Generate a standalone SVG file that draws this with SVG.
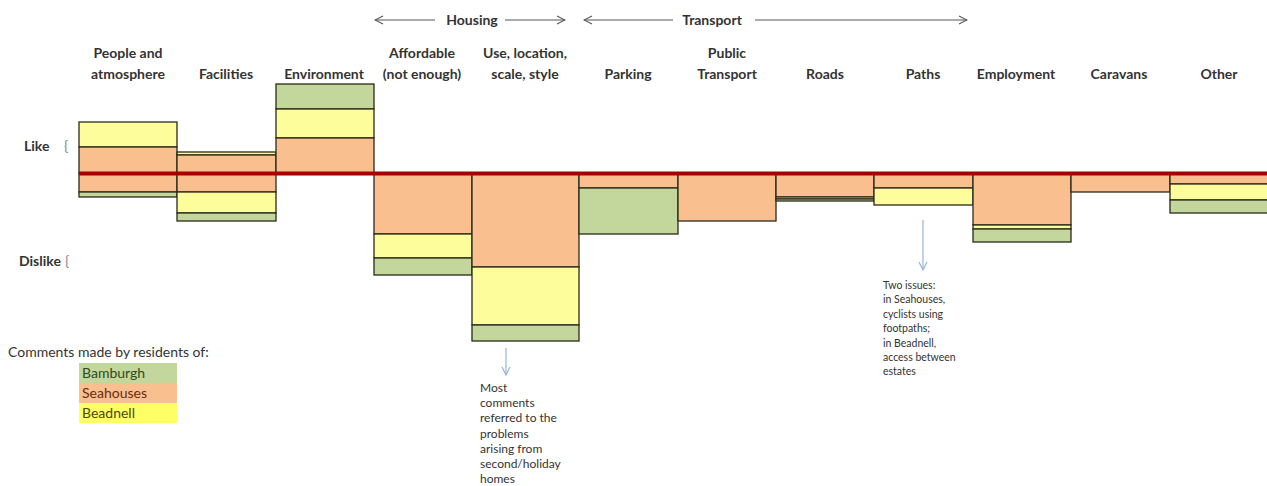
<svg xmlns="http://www.w3.org/2000/svg" width="1267" height="486" viewBox="0 0 1267 486">
<style>
  .hdr{font-family:Lato,"Liberation Sans",sans-serif;font-weight:bold;font-size:14px;fill:#333;text-anchor:middle}
  .lbl{font-family:Lato,"Liberation Sans",sans-serif;font-weight:bold;font-size:14px;fill:#333}
  .leg{font-family:Lato,"Liberation Sans",sans-serif;font-size:14px;fill:#333}
  .note{font-family:Lato,"Liberation Sans",sans-serif;font-size:12px;fill:#333}
  .note2{font-family:Lato,"Liberation Sans",sans-serif;font-size:10.5px;fill:#333}
  .g{fill:#c3d69b;stroke:#2a2a1a;stroke-width:1.3}
  .o{fill:#fabf8f;stroke:#2a2a1a;stroke-width:1.3}
  .y{fill:#fdfd9c;stroke:#2a2a1a;stroke-width:1.3}
  .arr{stroke:#555;stroke-width:1;fill:none}
  .blue{stroke:#9bb3dc;stroke-width:1.2;fill:none}
</style>
<defs>
  <marker id="chev" viewBox="0 0 10 10" refX="9" refY="5" markerWidth="10" markerHeight="10" markerUnits="userSpaceOnUse" orient="auto">
    <path d="M1,1 L9,5 L1,9" fill="none" stroke="#555" stroke-width="1.1"/>
  </marker>
  <marker id="chevb" viewBox="0 0 10 10" refX="9" refY="5" markerWidth="10" markerHeight="10" markerUnits="userSpaceOnUse" orient="auto">
    <path d="M1,1 L9,5 L1,9" fill="none" stroke="#9bb3dc" stroke-width="1.2"/>
  </marker>
</defs>
<rect width="1267" height="486" fill="#fff"/>

<g id="group-labels">
  <text class="hdr" x="472" y="25">Housing</text>
  <text class="hdr" x="712" y="25">Transport</text>
</g>

<g id="col-people">
  <text class="hdr" x="128" y="58">People and</text>
  <text class="hdr" x="128" y="79">atmosphere</text>
  <rect class="y" x="79" y="122" width="98" height="25"/>
  <rect class="o" x="79" y="147" width="98" height="26"/>
  <rect class="o" x="79" y="173" width="98" height="19"/>
  <rect class="g" x="79" y="192" width="98" height="5"/>
</g>
<g id="col-facilities">
  <text class="hdr" x="226" y="79">Facilities</text>
  <rect class="y" x="177" y="152" width="99" height="3"/>
  <rect class="o" x="177" y="155" width="99" height="18"/>
  <rect class="o" x="177" y="173" width="99" height="19"/>
  <rect class="y" x="177" y="192" width="99" height="21"/>
  <rect class="g" x="177" y="213" width="99" height="8"/>
</g>
<g id="col-environment">
  <text class="hdr" x="324" y="79">Environment</text>
  <rect class="g" x="276" y="84" width="98" height="25"/>
  <rect class="y" x="276" y="109" width="98" height="29"/>
  <rect class="o" x="276" y="138" width="98" height="35"/>
</g>
<g id="col-affordable">
  <text class="hdr" x="422" y="58">Affordable</text>
  <text class="hdr" x="422" y="79">(not enough)</text>
  <rect class="o" x="374" y="173" width="98" height="61"/>
  <rect class="y" x="374" y="234" width="98" height="24"/>
  <rect class="g" x="374" y="258" width="98" height="17"/>
</g>
<g id="col-use">
  <text class="hdr" x="525" y="58">Use, location,</text>
  <text class="hdr" x="525" y="79">scale, style</text>
  <rect class="o" x="472" y="173" width="107" height="94"/>
  <rect class="y" x="472" y="267" width="107" height="58"/>
  <rect class="g" x="472" y="325" width="107" height="16"/>
</g>
<g id="col-parking">
  <text class="hdr" x="628" y="79">Parking</text>
  <rect class="o" x="579" y="173" width="99" height="15"/>
  <rect class="g" x="579" y="188" width="99" height="46"/>
</g>
<g id="col-public-transport">
  <text class="hdr" x="727" y="58">Public</text>
  <text class="hdr" x="727" y="79">Transport</text>
  <rect class="o" x="678" y="173" width="98" height="48"/>
</g>
<g id="col-roads">
  <text class="hdr" x="825" y="79">Roads</text>
  <rect class="o" x="776" y="173" width="98" height="24"/>
  <rect class="y" x="776" y="197" width="98" height="2"/>
  <rect class="g" x="776" y="199" width="98" height="2"/>
</g>
<g id="col-paths">
  <text class="hdr" x="923" y="79">Paths</text>
  <rect class="o" x="874" y="173" width="99" height="15"/>
  <rect class="y" x="874" y="188" width="99" height="17"/>
</g>
<g id="col-employment">
  <text class="hdr" x="1016" y="79">Employment</text>
  <rect class="o" x="973" y="173" width="98" height="52"/>
  <rect class="y" x="973" y="225" width="98" height="4"/>
  <rect class="g" x="973" y="229" width="98" height="13"/>
</g>
<g id="col-caravans">
  <text class="hdr" x="1119" y="79">Caravans</text>
  <rect class="o" x="1071" y="173" width="99" height="19"/>
</g>
<g id="col-other">
  <text class="hdr" x="1219" y="79">Other</text>
  <rect class="o" x="1170" y="173" width="100" height="11"/>
  <rect class="y" x="1170" y="184" width="100" height="16"/>
  <rect class="g" x="1170" y="200" width="100" height="13"/>
</g>

<g id="axis">
  <line x1="79" y1="173.5" x2="1267" y2="173.5" stroke="#a80000" stroke-width="4"/>
  <text class="lbl" x="24" y="151">Like</text>
  <text class="lbl" x="64" y="151" style="font-weight:normal;fill:#888">{</text>
  <text class="lbl" x="19" y="266">Dislike</text>
  <text class="lbl" x="65" y="266" style="font-weight:normal;fill:#888">{</text>
</g>

<g id="legend">
  <text class="leg" x="8" y="357">Comments made by residents of:</text>
  <rect x="79" y="363" width="98" height="20" fill="#c3d69b"/>
  <rect x="79" y="383" width="98" height="20" fill="#fabf8f"/>
  <rect x="79" y="403" width="98" height="20" fill="#ffff66"/>
  <text class="leg" x="82" y="378" style="fill:#2e4a1e">Bamburgh</text>
  <text class="leg" x="82" y="398" style="fill:#6a2a10">Seahouses</text>
  <text class="leg" x="82" y="418" style="fill:#4a4a00">Beadnell</text>
</g>

<g id="note-use">
  <text class="note" x="480" y="392">Most</text>
  <text class="note" x="480" y="407.2">comments</text>
  <text class="note" x="480" y="422.4">referred to the</text>
  <text class="note" x="480" y="437.6">problems</text>
  <text class="note" x="480" y="452.8">arising from</text>
  <text class="note" x="480" y="468">second/holiday</text>
  <text class="note" x="480" y="483">homes</text>
</g>
<g id="note-paths">
  <text class="note2" x="883" y="289">Two issues:</text>
  <text class="note2" x="883" y="303">in Seahouses,</text>
  <text class="note2" x="883" y="318">cyclists using</text>
  <text class="note2" x="883" y="332">footpaths;</text>
  <text class="note2" x="883" y="347">in Beadnell,</text>
  <text class="note2" x="883" y="361">access between</text>
  <text class="note2" x="883" y="375">estates</text>
</g>

<g id="connectors">
  <line class="arr" x1="435" y1="20" x2="375" y2="20" marker-end="url(#chev)"/>
  <line class="arr" x1="505" y1="20" x2="565" y2="20" marker-end="url(#chev)"/>
  <line class="arr" x1="673" y1="20" x2="584" y2="20" marker-end="url(#chev)"/>
  <line class="arr" x1="755" y1="20" x2="967" y2="20" marker-end="url(#chev)"/>
  <line class="blue" x1="506" y1="348" x2="506" y2="375" marker-end="url(#chevb)"/>
  <line class="blue" x1="923" y1="220" x2="923" y2="270" marker-end="url(#chevb)"/>
</g>
</svg>
